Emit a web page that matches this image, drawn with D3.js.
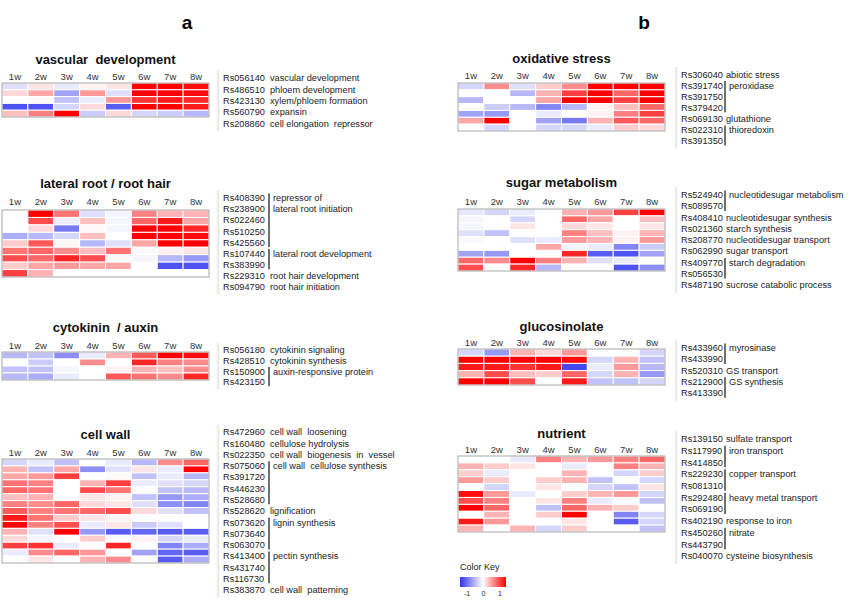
<!DOCTYPE html>
<html><head><meta charset="utf-8">
<script src="https://cdn.jsdelivr.net/npm/d3@7"></script>
<style>body{margin:0;background:#fff}svg{display:block}text{font-family:"Liberation Sans",Arial,sans-serif}</style>
</head><body><svg id="c" width="860" height="603"></svg>
<script>
const weeks = ["1w","2w","3w","4w","5w","6w","7w","8w"];

const vascularIds = ["Rs056140","Rs486510","Rs423130","Rs560790","Rs208860"];
const vascularDesc = ["vascular development","phloem development","xylem/phloem formation","expansin","cell elongation  repressor"];
const vascularBars = [];
const vascularValues = [
 [-0.15,0.1,-0.1,0.05,0.1,1,1,0.95],
 [0.15,0.35,-0.45,0.4,-0.15,1,1,0.95],
 [0,0.02,-0.3,-0.1,0.4,0.8,0.9,0.85],
 [-0.85,-0.85,-0.2,0.15,-0.8,1,1,0.9],
 [0.25,0.5,1,-0.25,0.15,-0.2,-0.25,-0.35]];

const lateralIds = ["Rs408390","Rs238900","Rs022460","Rs510250","Rs425560","Rs107440","Rs383990","Rs229310","Rs094790"];
const lateralDesc = ["repressor of","lateral root initiation","","","","lateral root development","","root hair development","root hair initiation"];
const lateralBars = [[0,4],[5,6]];
const lateralValues = [
 [0,1,0.55,-0.15,-0.05,0.5,0.3,0.3],
 [0,0.7,-0.08,0.25,-0.05,0.6,0.9,0.35],
 [0,0.15,-0.65,0.02,-0.05,1,1,0.85],
 [-0.4,-0.35,-0.2,0.25,0,1,1,0.95],
 [0.2,0.65,0.03,-0.35,-0.15,0.35,1,1],
 [0.55,0.6,0.45,0.25,0.55,-0.03,0.05,0.1],
 [0.7,0.6,0.85,0.7,0.02,-0.05,-0.35,-0.5],
 [0.2,0.35,0.4,0.35,0.35,0,-0.85,-0.85],
 [0.75,0.3,0,0,0,0,0,0]];

const cytoIds = ["Rs056180","Rs428510","Rs150900","Rs423150"];
const cytoDesc = ["cytokinin signaling","cytokinin synthesis","auxin-responsive protein",""];
const cytoBars = [[2,3]];
const cytoValues = [
 [-0.35,-0.3,-0.55,-0.1,0.3,0.65,1,0.95],
 [0,-0.25,0,0.45,0,0.85,0.5,0.45],
 [-0.3,-0.3,-0.05,0,0.05,0.3,0.25,0.45],
 [-0.35,-0.4,-0.1,0,0.65,0.55,0.45,0.85]];

const wallIds = ["Rs472960","Rs160480","Rs022350","Rs075060","Rs391720","Rs446230","Rs528680","Rs528620","Rs073620","Rs073640","Rs063070","Rs413400","Rs431740","Rs116730","Rs383870"];
const wallDesc = ["cell wall  loosening","cellulose hydrolysis","cell wall  biogenesis  in  vessel","cell wall  cellulose synthesis","","","","lignification","lignin synthesis","","","pectin synthesis","","","cell wall  patterning"];
const wallBars = [[3,6],[8,10],[11,13]];
const wallValues = [
 [-0.2,-0.1,-0.3,0,-0.1,-0.35,0.45,0.6],
 [0.3,-0.3,0.35,-0.55,-0.15,0.1,-0.1,1],
 [0.35,0.4,0.75,0,0.02,-0.3,-0.1,-0.35],
 [0.55,0.5,0,0.3,0.75,-0.1,-0.15,-0.2],
 [0.6,0.55,0,0.7,0.55,0,-0.3,-0.35],
 [0.25,0.3,0,0.1,0.05,-0.3,-0.5,-0.4],
 [0.5,0.45,0.6,0.15,0.1,-0.15,-0.55,-0.6],
 [0.65,0.5,0.55,0.6,0.7,0.15,-0.15,-0.3],
 [0.9,0.55,0.2,0.1,0.05,0,0,0],
 [1,0.5,0.7,-0.1,0.1,-0.25,-0.15,0],
 [0.3,-0.15,1,-0.5,-0.8,-0.75,-0.8,-0.8],
 [0.15,-0.05,0,0.2,0,0.05,-0.2,-0.1],
 [0.75,0.8,-0.1,0,0.85,0,-0.6,-0.4],
 [-0.1,0.45,0.6,0.4,0,-0.45,-0.75,-0.8],
 [0,0.1,0,0.3,0.45,0,-0.8,-0.4]];

const oxiIds = ["Rs306040","Rs391740","Rs391750","Rs379420","Rs069130","Rs022310","Rs391350"];
const oxiDesc = ["abiotic stress","peroxidase","","","glutathione","thioredoxin",""];
const oxiBars = [[1,3],[5,6]];
const oxiValues = [
 [-0.2,0.45,-0.15,0.2,0.45,1,1,1],
 [0,0,-0.35,0.3,0.75,1,0.6,1],
 [-0.35,0,0,0.35,1,1,0.75,1],
 [0,-0.25,-0.35,-0.6,-0.35,0.05,0.25,0.6],
 [-0.45,-0.5,0,-0.1,0,0.05,0.5,0.75],
 [0.35,1,0,-0.45,-0.65,0.3,0.65,0.6],
 [0,-0.2,0,-0.2,-0.2,-0.1,0.2,0.15]];

const sugarIds = ["Rs524940","Rs089570","Rs408410","Rs021360","Rs208770","Rs062990","Rs409770","Rs056530","Rs487190"];
const sugarDesc = ["nucleotidesugar metabolism","","nucleotidesugar synthesis","starch synthesis","nucleotidesugar transport","sugar transport","starch degradation","","sucrose catabolic process"];
const sugarBars = [[0,1],[6,7]];
const sugarValues = [
 [-0.12,-0.2,-0.1,0,0.3,0.4,0.75,1],
 [-0.05,0,-0.2,0,0.6,0.35,0,0.25],
 [-0.05,0,0.1,0,0.15,0.1,0,0.1],
 [-0.15,-0.3,0,0,0.5,0.25,0.05,0.3],
 [-0.03,0,-0.15,-0.1,0.4,0.3,0.05,0.4],
 [0,0,0,0.35,-0.05,-0.1,-0.6,-0.25],
 [-0.45,-0.5,0,0,0.85,-0.8,-0.85,-0.45],
 [0.6,0.45,1,0.5,0.3,-0.15,-0.1,0],
 [0.7,0,0.85,-0.35,0,0,-0.85,-0.55]];

const glucoIds = ["Rs433960","Rs433990","Rs520310","Rs212900","Rs413390"];
const glucoDesc = ["myrosinase","","GS transport","GS synthesis",""];
const glucoBars = [[0,1],[3,4]];
const glucoValues = [
 [-0.2,-0.5,0.3,0.15,0.4,0,0,-0.2],
 [1,1,1,1,0.95,-0.2,0.3,-0.3],
 [0.9,0.9,0.8,0.9,-0.9,-0.1,0.4,-0.35],
 [0.3,0.7,0.25,0.2,0.6,-0.2,0.3,-0.5],
 [1,1,0.7,0,0.9,-0.3,-0.3,-0.2]];

const nutrientIds = ["Rs139150","Rs117990","Rs414850","Rs229230","Rs081310","Rs292480","Rs069190","Rs402190","Rs450260","Rs443790","Rs040070"];
const nutrientDesc = ["sulfate transport","iron transport","","copper transport","","heavy metal transport","","response to iron","nitrate","","cysteine biosynthesis"];
const nutrientBars = [[1,2],[3,4],[5,6],[8,9]];
const nutrientValues = [
 [0,0,-0.1,0.5,0.3,0.4,0.5,0.6],
 [0.3,0.2,0.1,0,-0.1,0,0.5,0.3],
 [0.2,-0.1,0,0,0.3,0,-0.2,0.2],
 [0.4,0.2,0,0.2,0.3,-0.3,0,-0.2],
 [0,-0.2,0,0.1,0,-0.2,-0.3,0.1],
 [0.95,0.4,-0.1,0,0.2,0.3,0.4,-0.2],
 [0.7,0.5,0,0.1,0.5,-0.1,0,-0.3],
 [1,0.6,0,-0.3,0.6,0.3,0.2,0],
 [0,0.3,0,0.2,1,0,-0.6,-0.2],
 [0.9,0.4,0,0,0.1,0,-0.8,-0.2],
 [0.3,0,0.3,-0.2,0.2,0,0,-0.3]];

const keyTicks = [-1,0,1];

const color = d3.scaleLinear().domain([-1,0,1]).range(["#2f33ee","#ffffff","#ff0000"]).clamp(true);
const svg = d3.select("#c");

function panel(p){
  const g = svg.append("g");
  const x = d3.scaleBand().domain(weeks).range([p.x0,p.x1]);
  const y = d3.scaleBand().domain(d3.range(p.values.length)).range([p.top,p.bottom]);
  g.append("text").attr("x",(p.x0+p.x1)/2).attr("y",p.titleY).attr("text-anchor","middle")
    .attr("font-size",13).attr("font-weight","bold").attr("fill","#111").attr("xml:space","preserve").text(p.title);
  g.selectAll(".wk").data(weeks).enter().append("text")
    .attr("x",d=>x(d)+x.bandwidth()/2).attr("y",p.colY).attr("text-anchor","middle")
    .attr("font-size",9.5).attr("fill","#333").text(d=>d);
  p.values.forEach((row,i)=>{
    g.selectAll(null).data(row).enter().append("rect")
      .attr("x",(d,j)=>x(weeks[j])).attr("y",y(i)).attr("width",x.bandwidth()).attr("height",y.bandwidth())
      .attr("fill",d=>color(d)).attr("stroke","#fff").attr("stroke-width",1);
  });
  g.append("rect").attr("x",p.x0).attr("y",p.top).attr("width",p.x1-p.x0).attr("height",p.bottom-p.top)
    .attr("fill","none").attr("stroke","#a8a8a8").attr("stroke-width",1);
  const ly = d3.scalePoint().domain(d3.range(p.ids.length)).range([p.ltop,p.lbottom]);
  const step = ly.step();
  const inBar = i => p.bars.some(b=>i>=b[0]&&i<=b[1]);
  g.append("rect").attr("x",p.lx-7).attr("y",p.ltop-step/2-2).attr("width",4).attr("height",p.lbottom-p.ltop+step+4)
    .attr("fill","url(#shade)");
  g.selectAll(".id").data(p.ids).enter().append("text")
    .attr("x",p.lx).attr("y",(d,i)=>ly(i)).attr("dy","0.35em")
    .attr("font-size",9.2).attr("fill","#222").text(d=>d);
  g.selectAll(".ds").data(p.desc).enter().append("text")
    .attr("x",(d,i)=>inBar(i) ? p.dx+3 : p.dx)
    .attr("y",(d,i)=>ly(i)).attr("dy","0.35em")
    .attr("font-size",9.2).attr("fill","#222").attr("xml:space","preserve").text(d=>d);
  g.selectAll(".bar").data(p.bars).enter().append("line")
    .attr("x1",p.dx-1).attr("x2",p.dx-1)
    .attr("y1",d=>ly(d[0])-step/2+1).attr("y2",d=>ly(d[1])+step/2-1)
    .attr("stroke","#111").attr("stroke-width",1.2);
}

const defs = svg.append("defs");
const sh = defs.append("linearGradient").attr("id","shade");
sh.append("stop").attr("offset","0").attr("stop-color","#fff");
sh.append("stop").attr("offset","0.6").attr("stop-color","#e6e6e6");
sh.append("stop").attr("offset","1").attr("stop-color","#fff");
const kg = defs.append("linearGradient").attr("id","key");
keyTicks.forEach((t,i)=>kg.append("stop").attr("offset",i/(keyTicks.length-1)).attr("stop-color",color(t)));

svg.append("text").attr("x",187).attr("y",29).attr("text-anchor","middle").attr("font-size",19).attr("font-weight","bold").text("a");
svg.append("text").attr("x",644).attr("y",29).attr("text-anchor","middle").attr("font-size",19).attr("font-weight","bold").text("b");

const L = {x0:2,x1:209,lx:223,dx:270};
const R = {x0:458,x1:665,lx:681,dx:726};
panel({...L,title:"vascular  development",titleY:64,colY:80,top:83,bottom:117,ltop:78,lbottom:123.5,ids:vascularIds,desc:vascularDesc,bars:vascularBars,values:vascularValues});
panel({...L,title:"lateral root / root hair",titleY:188,colY:205,top:210,bottom:277,ltop:198,lbottom:287,ids:lateralIds,desc:lateralDesc,bars:lateralBars,values:lateralValues});
panel({...L,title:"cytokinin  / auxin",titleY:332,colY:349,top:352,bottom:380,ltop:350,lbottom:382,ids:cytoIds,desc:cytoDesc,bars:cytoBars,values:cytoValues});
panel({...L,title:"cell wall",titleY:439,colY:456,top:459,bottom:563,ltop:432,lbottom:590,ids:wallIds,desc:wallDesc,bars:wallBars,values:wallValues});
panel({...R,title:"oxidative stress",titleY:63,colY:79,top:83,bottom:131,ltop:74.5,lbottom:141,ids:oxiIds,desc:oxiDesc,bars:oxiBars,values:oxiValues});
panel({...R,title:"sugar metabolism",titleY:187,colY:205,top:209,bottom:271,ltop:195,lbottom:285,ids:sugarIds,desc:sugarDesc,bars:sugarBars,values:sugarValues});
panel({...R,title:"glucosinolate",titleY:331,colY:346,top:349,bottom:385,ltop:348,lbottom:393,ids:glucoIds,desc:glucoDesc,bars:glucoBars,values:glucoValues});
panel({...R,title:"nutrient",titleY:438,colY:453,top:456,bottom:532,ltop:439,lbottom:556,ids:nutrientIds,desc:nutrientDesc,bars:nutrientBars,values:nutrientValues});

svg.append("text").attr("x",460).attr("y",570).attr("font-size",9).attr("fill","#222").text("Color Key");
svg.append("rect").attr("x",460).attr("y",577).attr("width",46).attr("height",10).attr("fill","url(#key)");
const kx = d3.scaleLinear().domain([-1,1]).range([467,500]);
svg.selectAll(".kt").data(keyTicks).enter().append("text").attr("x",d=>kx(d)).attr("y",596)
  .attr("text-anchor","middle").attr("font-size",7).attr("fill","#222").text(d=>d);
</script></body></html>
